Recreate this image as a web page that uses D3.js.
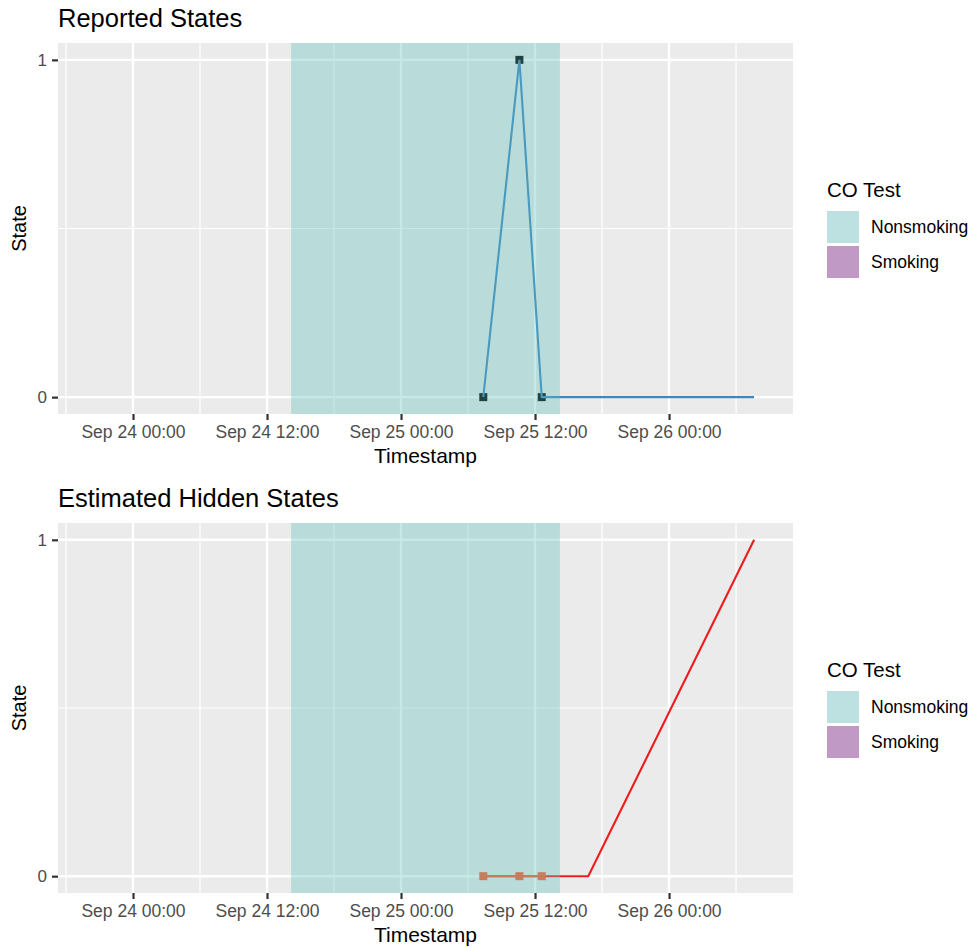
<!DOCTYPE html>
<html><head><meta charset="utf-8">
<script src="https://cdn.jsdelivr.net/npm/d3@7"></script>
<style>body{margin:0;background:#fff}svg{display:block;font-family:"Liberation Sans",Arial,Helvetica,sans-serif}</style>
</head><body><svg id="c" width="970" height="947"></svg>
<script>
// ---- data ----
const panelTitles = ["Reported States", "Estimated Hidden States"];
const xDomain = ["2017-09-23T17:17Z", "2017-09-26T11:06Z"];
const xTickValues = ["2017-09-24T00:00Z","2017-09-24T12:00Z","2017-09-25T00:00Z","2017-09-25T12:00Z","2017-09-26T00:00Z"];
const xMinorValues = ["2017-09-23T18:00Z","2017-09-24T06:00Z","2017-09-24T18:00Z","2017-09-25T06:00Z","2017-09-25T18:00Z","2017-09-26T06:00Z"];
const yTicks = [0, 1];
const yMinor = [0.5];
const coTestLabels = ["Nonsmoking", "Smoking"];
const coTestStart = ["2017-09-24T14:09Z"];
const coTestEnd = ["2017-09-25T14:14Z"];
const coTestType = ["Nonsmoking"];
// reported states
const reportedTimes = ["2017-09-25T07:22Z","2017-09-25T10:36Z","2017-09-25T12:36Z","2017-09-26T07:37Z"];
const reportedValues = [0, 1, 0, 0];
const reportedPointCount = 3;
// estimated hidden states
const hiddenTimes = ["2017-09-25T07:22Z","2017-09-25T10:36Z","2017-09-25T12:36Z","2017-09-25T16:46Z","2017-09-26T07:37Z"];
const hiddenValues = [0, 0, 0, 0, 1];
const observedTimes = ["2017-09-25T07:22Z","2017-09-25T10:36Z","2017-09-25T12:36Z"];
const observedValues = [0, 0, 0];

// ---- drawing ----
const svg = d3.select("#c");
const P = {left:58, right:793};
const panels = [{top:43, bottom:414}, {top:523, bottom:893}];
const x = d3.scaleUtc().domain(xDomain.map(d=>new Date(d))).range([P.left, P.right]);
const fillCol = {Nonsmoking:"#5bbfbd", Smoking:"#9b59a8"};
const legendCol = {Nonsmoking:"#bde1e0", Smoking:"#c09ac4"};
const fmt = d3.utcFormat("%b %d %H:%M");

panels.forEach((pn, i) => {
  const y = d3.scaleLinear().domain([-0.05, 1.05]).range([pn.bottom, pn.top]);
  const g = svg.append("g");
  // title
  g.append("text").attr("x", P.left).attr("y", pn.top - 16).attr("font-size", 25.5).attr("fill", "#000").text(panelTitles[i]);
  // background
  g.append("rect").attr("x", P.left).attr("y", pn.top).attr("width", P.right-P.left).attr("height", pn.bottom-pn.top).attr("fill", "#ebebeb");
  // minor grid
  g.selectAll(".mx").data(xMinorValues.map(d=>new Date(d))).join("line")
    .attr("x1", d=>x(d)).attr("x2", d=>x(d)).attr("y1", pn.top).attr("y2", pn.bottom)
    .attr("stroke", "#fff").attr("stroke-width", 1.2);
  g.selectAll(".my").data(yMinor).join("line")
    .attr("x1", P.left).attr("x2", P.right).attr("y1", d=>y(d)).attr("y2", d=>y(d))
    .attr("stroke", "#fff").attr("stroke-width", 1.2);
  // major grid
  g.selectAll(".Mx").data(xTickValues.map(d=>new Date(d))).join("line")
    .attr("x1", d=>x(d)).attr("x2", d=>x(d)).attr("y1", pn.top).attr("y2", pn.bottom)
    .attr("stroke", "#fff").attr("stroke-width", 2.4);
  g.selectAll(".My").data(yTicks).join("line")
    .attr("x1", P.left).attr("x2", P.right).attr("y1", d=>y(d)).attr("y2", d=>y(d))
    .attr("stroke", "#fff").attr("stroke-width", 2.4);

  const line = d3.line().x(d=>x(d[0])).y(d=>y(d[1]));
  if (i === 0) {
    const pts = reportedTimes.map((t,k)=>[new Date(t), reportedValues[k]]);
    g.selectAll(".pt").data(pts.slice(0, reportedPointCount)).join("rect")
      .attr("x", d=>x(d[0])-4).attr("y", d=>y(d[1])-4).attr("width", 8).attr("height", 8).attr("fill", "#000");
    g.append("path").datum(pts).attr("d", line).attr("fill", "none").attr("stroke", "#3f86bf").attr("stroke-width", 2.1);
  } else {
    const pts = hiddenTimes.map((t,k)=>[new Date(t), hiddenValues[k]]);
    g.append("path").datum(pts).attr("d", line).attr("fill", "none").attr("stroke", "#ee1c1c").attr("stroke-width", 2.1);
    const obs = observedTimes.map((t,k)=>[new Date(t), observedValues[k]]);
    g.selectAll(".pt").data(obs).join("rect")
      .attr("x", d=>x(d[0])-4).attr("y", d=>y(d[1])-4).attr("width", 8).attr("height", 8).attr("fill", "#ff5a28");
    g.append("path").datum(obs).attr("d", line).attr("fill", "none").attr("stroke", "#ff5a28").attr("stroke-width", 2.1);
  }
  // CO test shading on top
  g.selectAll(".co").data(coTestStart.map((s,k)=>({s:new Date(s), e:new Date(coTestEnd[k]), t:coTestType[k]}))).join("rect")
    .attr("x", d=>x(d.s)).attr("width", d=>x(d.e)-x(d.s)).attr("y", pn.top).attr("height", pn.bottom-pn.top)
    .attr("fill", d=>fillCol[d.t]).attr("fill-opacity", 0.35);

  // x axis
  const xa = g.append("g").attr("transform", `translate(0,${pn.bottom})`)
    .call(d3.axisBottom(x).tickValues(xTickValues.map(d=>new Date(d))).tickFormat(fmt).tickSize(6).tickPadding(6));
  xa.select(".domain").remove();
  xa.selectAll("line").attr("stroke", "#333").attr("stroke-width", 2.2);
  xa.selectAll("text").attr("fill", "#4d4d4d").attr("font-size", 17.5).attr("font-family", null);
  // y axis
  const ya = g.append("g").attr("transform", `translate(${P.left},0)`)
    .call(d3.axisLeft(y).tickValues(yTicks).tickFormat(d3.format("d")).tickSize(6).tickPadding(5));
  ya.select(".domain").remove();
  ya.selectAll("line").attr("stroke", "#333").attr("stroke-width", 2.2);
  ya.selectAll("text").attr("fill", "#4d4d4d").attr("font-size", 17).attr("font-family", null);
  // axis titles
  g.append("text").attr("x", (P.left+P.right)/2).attr("y", pn.bottom + 49).attr("text-anchor", "middle").attr("font-size", 21).text("Timestamp");
  g.append("text").attr("transform", `translate(26,${(pn.top+pn.bottom)/2}) rotate(-90)`).attr("text-anchor", "middle").attr("font-size", 20).text("State");
  // legend
  const ly = pn.top + 147;
  g.append("text").attr("x", 827).attr("y", ly + 7).attr("font-size", 20.5).text("CO Test");
  coTestLabels.forEach((lab, k) => {
    g.append("rect").attr("x", 827).attr("y", ly + 21 + k*35).attr("width", 32).attr("height", 32).attr("fill", legendCol[lab]);
    g.append("text").attr("x", 871).attr("y", ly + 37 + k*35).attr("dy", "0.35em").attr("font-size", 17.5).text(lab);
  });
});
</script></body></html>
